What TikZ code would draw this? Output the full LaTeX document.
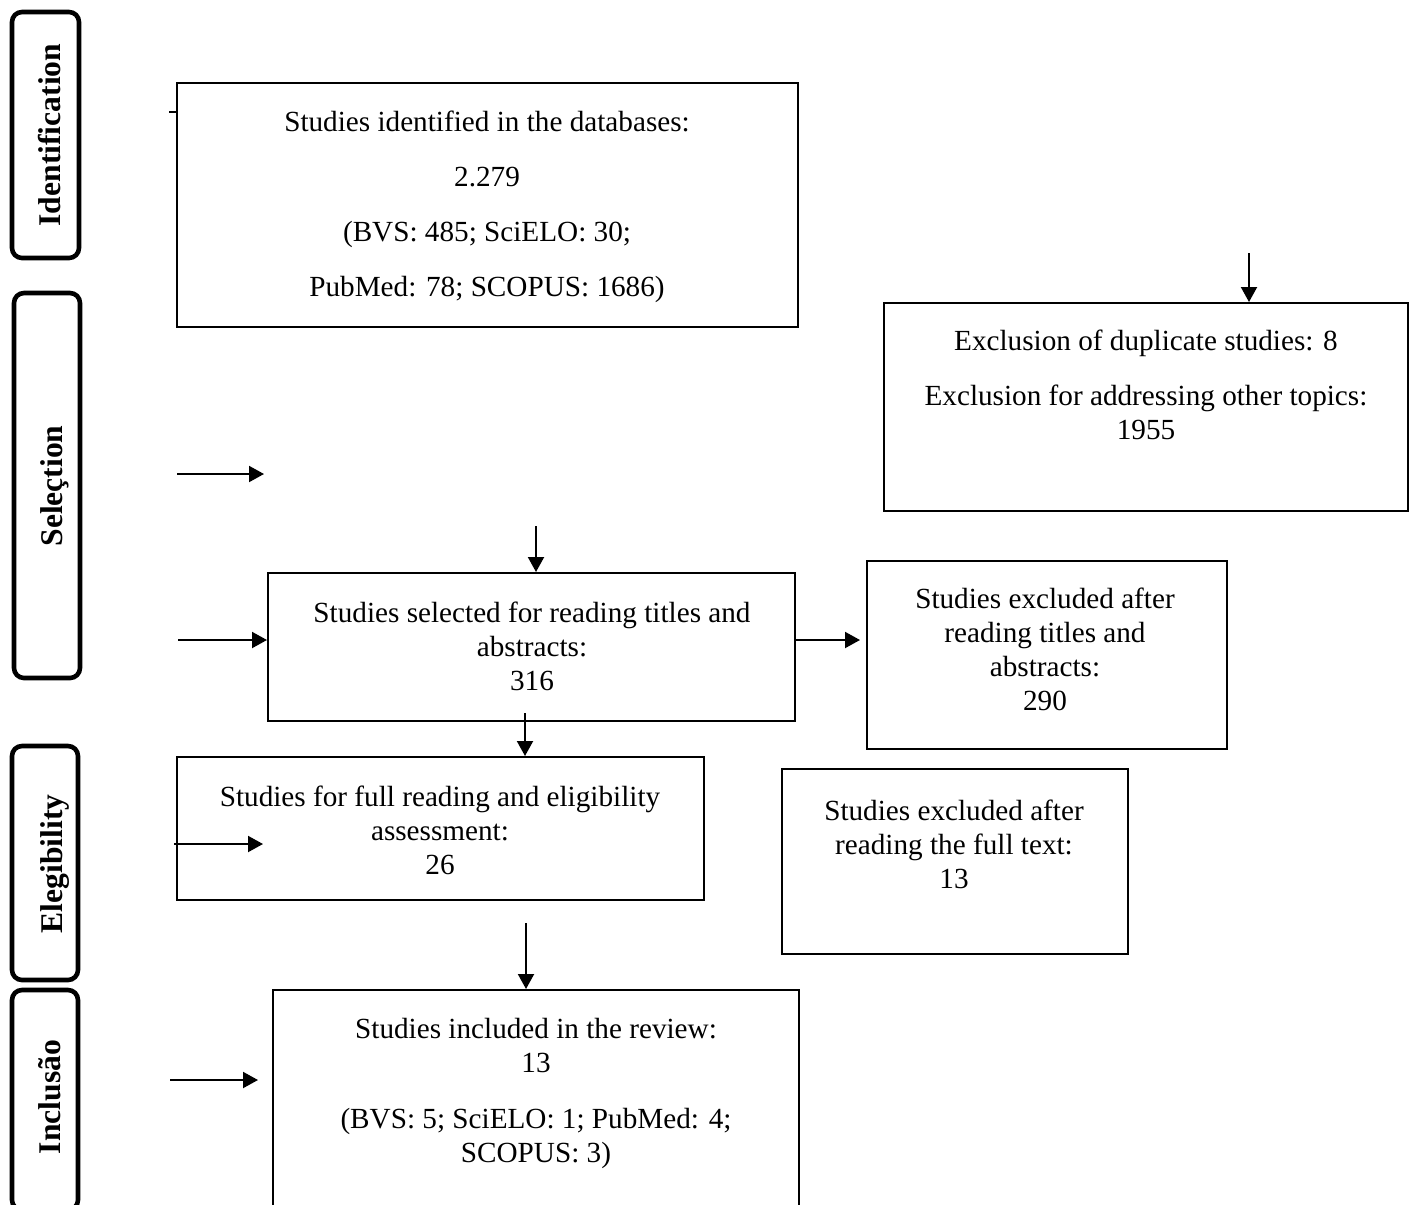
\documentclass[tikz,border=0pt]{standalone}
\usepackage{fontspec}
\setmainfont{Liberation Serif}
\usetikzlibrary{arrows.meta,fit}
\begin{document}
\begin{tikzpicture}[x=0.5pt,y=-0.5pt,
  box/.style={draw, line width=1pt, inner sep=0pt},
  lbox/.style={draw, line width=2.3pt, rounded corners=5pt, inner sep=0pt},
  lab/.style={font=\bfseries\fontsize{15.8}{19}\selectfont, rotate=90, anchor=base, inner sep=0pt},
  txt/.style={font=\fontsize{14.6}{17}\selectfont, align=center, inner sep=0pt},
  arr/.style={line width=1pt, -{Triangle[length=7.5pt,width=8pt]}},
  stub/.style={line width=1pt}
]
\useasboundingbox (0,0) rectangle (1409,1205);

% stage label boxes
\coordinate (l1a) at (12,12);   \coordinate (l1b) at (79,258);
\coordinate (l2a) at (14,293);  \coordinate (l2b) at (80,678);
\coordinate (l3a) at (12,746);  \coordinate (l3b) at (78,980);
\coordinate (l4a) at (12,990);  \coordinate (l4b) at (78,1210);
\node[lbox, fit=(l1a)(l1b)] (L1) {};
\node[lbox, fit=(l2a)(l2b)] (L2) {};
\node[lbox, fit=(l3a)(l3b)] (L3) {};
\node[lbox, fit=(l4a)(l4b)] (L4) {};
\node[lab] (T1) at (61,135) {Identification};
\node[lab] (T2) at (62,486) {Seleçtion};
\node[lab] (T3) at (62,864) {Elegibility};
\node[lab] (T4) at (61,1097) {Inclusão};

% flow boxes
\coordinate (b1a) at (177,83);  \coordinate (b1b) at (798,327);
\coordinate (b2a) at (884,303); \coordinate (b2b) at (1408,511);
\coordinate (b3a) at (268,573); \coordinate (b3b) at (795,721);
\coordinate (b4a) at (867,561); \coordinate (b4b) at (1227,749);
\coordinate (b5a) at (177,757); \coordinate (b5b) at (704,900);
\coordinate (b6a) at (782,769); \coordinate (b6b) at (1128,954);
\coordinate (b7a) at (273,990); \coordinate (b7b) at (799,1214);
\node[box, fit=(b1a)(b1b)] (b1) {};
\node[box, fit=(b2a)(b2b)] (b2) {};
\node[box, fit=(b3a)(b3b)] (b3) {};
\node[box, fit=(b4a)(b4b)] (b4) {};
\node[box, fit=(b5a)(b5b)] (b5) {};
\node[box, fit=(b6a)(b6b)] (b6) {};
\node[box, fit=(b7a)(b7b)] (b7) {};

% box texts
\node[txt] (t1) at (487,207) {Studies identified in the databases:\\[10.5pt]
  2.279\\[10.5pt] (BVS: 485; SciELO: 30;\\[10.5pt] PubMed: 78; SCOPUS: 1686)};
\node[txt] (t2) at (1146,385) {Exclusion of duplicate studies: 8\\[10.5pt]
  Exclusion for addressing other topics:\\ 1955};
\node[txt] (t3) at (532,646) {Studies selected for reading titles and\\ abstracts:\\ 316};
\node[txt] (t4) at (1045,649) {Studies excluded after\\ reading titles and\\ abstracts:\\ 290};
\node[txt] (t5) at (440,830) {Studies for full reading and eligibility\\ assessment:\\ 26};
\node[txt] (t6) at (954,844) {Studies excluded after\\ reading the full text:\\ 13};
\node[txt] (t7) at (536,1093) {Studies included in the review:\\ 13\\[11pt]
  (BVS: 5; SciELO: 1; PubMed: 4;\\ SCOPUS: 3)};

% connectors
\coordinate (k1) at (169,112);
\draw[stub] (k1) -- (k1 -| b1.west);
\coordinate (s2) at (1249,253);
\draw[arr] (s2) -- (s2 |- b2.north);
\coordinate (s3) at (177,474); \coordinate (e3) at (264,474);
\draw[arr] (s3) -- (e3);
\coordinate (s4) at (536,526);
\draw[arr] (s4) -- (s4 |- b3.north);
\coordinate (s5) at (178,640);
\draw[arr] (s5) -- (s5 -| b3.west);
\coordinate (e6) at (860,640);
\draw[arr] (e6 -| b3.east) -- (e6);
\coordinate (s7) at (525,713);
\draw[arr] (s7) -- (s7 |- b5.north);
\coordinate (s8) at (174,844); \coordinate (e8) at (263,844);
\draw[arr] (s8) -- (e8);
\coordinate (s9) at (526,923);
\draw[arr] (s9) -- (s9 |- b7.north);
\coordinate (s10) at (170,1080); \coordinate (e10) at (258,1080);
\draw[arr] (s10) -- (e10);
\end{tikzpicture}
\end{document}
